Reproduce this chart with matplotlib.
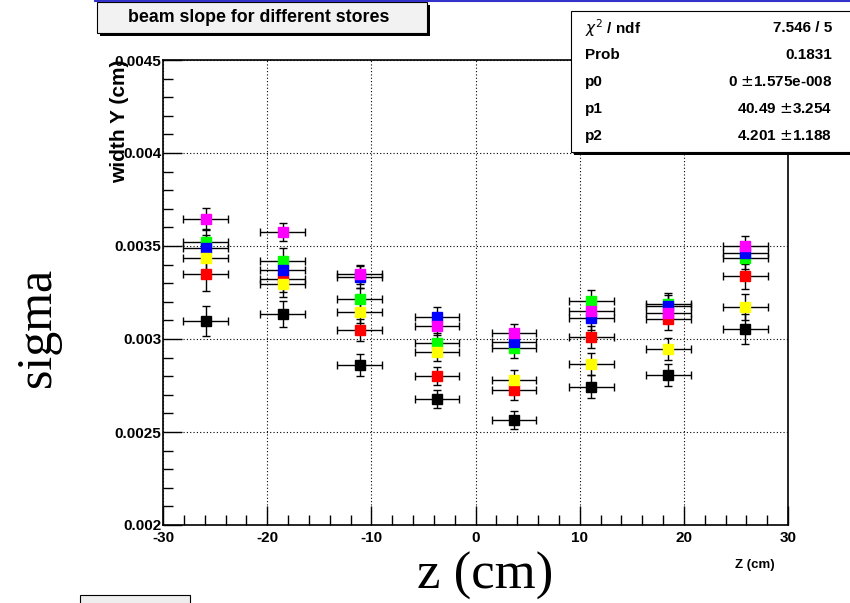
import matplotlib.pyplot as plt
from matplotlib.patches import Rectangle
from matplotlib.ticker import MultipleLocator, FixedFormatter, FixedLocator
import numpy as np

z = [-25.9, -18.5, -11.1, -3.7, 3.7, 11.1, 18.5, 25.9]
z_err = 2.15

black = [0.003097, 0.003134, 0.002862, 0.002677, 0.002565, 0.002744, 0.002805, 0.003054]
red = [0.003350, 0.003320, 0.003047, 0.002801, 0.002724, 0.003009, 0.003106, 0.003339]
green = [0.003523, 0.003421, 0.003213, 0.002980, 0.002950, 0.003204, 0.003188, 0.003434]
blue = [0.003489, 0.003371, 0.003335, 0.003120, 0.002984, 0.003111, 0.003177, 0.003461]
yellow = [0.003435, 0.003294, 0.003144, 0.002932, 0.002781, 0.002867, 0.002948, 0.003170]
magenta = [0.003645, 0.003575, 0.003348, 0.003072, 0.003031, 0.003152, 0.003138, 0.003502]

black_err = [0.00008, 0.00007, 0.00006, 0.00005, 0.00005, 0.00006, 0.00006, 0.00008]
red_err = [0.00009, 0.00007, 0.00006, 0.00005, 0.00005, 0.00006, 0.00006, 0.00007]
green_err = [0.00007, 0.00007, 0.00006, 0.00005, 0.00005, 0.00006, 0.00006, 0.00006]
blue_err = [0.00007, 0.00007, 0.00006, 0.00005, 0.00005, 0.00006, 0.00006, 0.00006]
yellow_err = [0.00008, 0.00007, 0.00006, 0.00005, 0.00005, 0.00006, 0.00006, 0.00007]
magenta_err = [0.00006, 0.00005, 0.00005, 0.00005, 0.00005, 0.00005, 0.00005, 0.00005]

series = [
    (black, black_err, 'black'),
    (red, red_err, '#ff0000'),
    (green, green_err, '#00ff00'),
    (blue, blue_err, '#0000ff'),
    (yellow, yellow_err, '#ffff00'),
    (magenta, magenta_err, '#ff00ff'),
]

x_ticks = [-30, -20, -10, 0, 10, 20, 30]
x_labels = ['-30', '-20', '-10', '0', '10', '20', '30']
y_ticks = [0.002, 0.0025, 0.003, 0.0035, 0.004, 0.0045]
y_labels = ['0.002', '0.0025', '0.003', '0.0035', '0.004', '0.0045']

stats_names = [r'$\chi^2$ / ndf', 'Prob', 'p0', 'p1', 'p2']
stats_values = ['7.546 / 5', '0.1831', '0 $\\pm$1.575e-008', '40.49 $\\pm$3.254', '4.201 $\\pm$1.188']

plt.rcParams['font.family'] = ['Liberation Sans', 'DejaVu Sans']

fig = plt.figure(figsize=(8.5, 6.03), dpi=100)
ax = fig.add_axes([163 / 850, 1 - 525 / 603, (788 - 163) / 850, (525 - 60) / 603])

for vals, errs, col in series:
    ax.errorbar(z, vals, xerr=z_err, yerr=errs, fmt='s', color=col, ms=7.5,
                mec=col, ecolor='black', elinewidth=1.0, capsize=3, capthick=1.0,
                zorder=3)

ax.set_xlim(-30, 30)
ax.set_ylim(0.002, 0.0045)
ax.xaxis.set_major_locator(FixedLocator(x_ticks))
ax.xaxis.set_major_formatter(FixedFormatter(x_labels))
ax.xaxis.set_minor_locator(MultipleLocator(2))
ax.yaxis.set_major_locator(FixedLocator(y_ticks))
ax.yaxis.set_major_formatter(FixedFormatter(y_labels))
ax.yaxis.set_minor_locator(MultipleLocator(0.0001))
ax.tick_params(which='both', direction='in', top=False, right=False)
ax.tick_params(which='major', length=14, width=1)
ax.tick_params(which='minor', length=7, width=1)
ax.tick_params(axis='x', pad=4)
ax.tick_params(axis='y', pad=1)
for lab in ax.get_xticklabels() + ax.get_yticklabels():
    lab.set_fontweight('bold')
    lab.set_fontsize(11)
ax.grid(True, which='major', color='black', linestyle=(0, (1, 2)), linewidth=0.8)
for sp in ax.spines.values():
    sp.set_linewidth(1.2)

fig.text(120 / 850, 1 - 121 / 603, 'width Y (cm)', rotation=90, ha='center', va='center',
         fontsize=15, fontweight='bold')
fig.text(755 / 850, 1 - 565 / 603, 'Z (cm)', ha='center', va='center',
         fontsize=9.5, fontweight='bold')

fig.text(38 / 850, 1 - 327 / 603, 'sigma', rotation=90, ha='center', va='center',
         fontsize=36, family='Liberation Serif')
fig.text(485 / 850, 1 - 576 / 603, 'z (cm)', ha='center', va='center',
         fontsize=38, family='Liberation Serif')

# title box with shadow
fig.patches.append(Rectangle((100 / 850, 1 - 36 / 603), 330 / 850, 31 / 603,
                             transform=fig.transFigure, facecolor='black', edgecolor='none'))
fig.patches.append(Rectangle((97 / 850, 1 - 33 / 603), 330 / 850, 31 / 603,
                             transform=fig.transFigure, facecolor='#f2f2f2', edgecolor='black', lw=0.8))
fig.text(259 / 850, 1 - 17 / 603, 'beam slope for different stores', ha='center', va='center',
         fontsize=12.8, fontweight='bold')

# top blue line
fig.add_artist(plt.Line2D([95 / 850, 1], [1 - 1 / 603, 1 - 1 / 603], transform=fig.transFigure,
                          color='#3333cc', lw=1.5))

# stats box
fig.patches.append(Rectangle((574 / 850, 1 - 155 / 603), 280 / 850, 144 / 603,
                             transform=fig.transFigure, facecolor='black', edgecolor='none'))
fig.patches.append(Rectangle((571 / 850, 1 - 152 / 603), 285 / 850, 141 / 603,
                             transform=fig.transFigure, facecolor='white', edgecolor='black', lw=0.8))
for i, (nm, vl) in enumerate(zip(stats_names, stats_values)):
    yy = 1 - (28 + i * 27) / 603
    fig.text(585 / 850, yy, nm, ha='left', va='center', fontsize=11, fontweight='bold')
    fig.text(832 / 850, yy, vl, ha='right', va='center', fontsize=11, fontweight='bold')

# partially visible box at bottom left
fig.patches.append(Rectangle((80 / 850, -2 / 603), 110 / 850, 10 / 603,
                             transform=fig.transFigure, facecolor='#eeeeee', edgecolor='black', lw=0.8))

fig.savefig('out.png', dpi=100)
